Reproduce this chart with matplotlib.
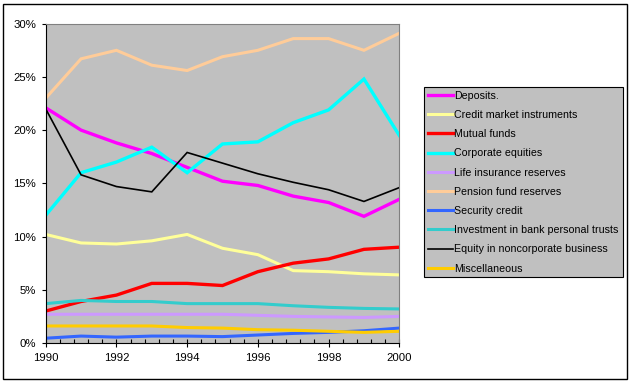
import numpy as np
import matplotlib
matplotlib.use("Agg")
import matplotlib.pyplot as plt
from matplotlib.patches import Rectangle
from matplotlib.ticker import MultipleLocator, FuncFormatter

plt.rcParams['font.family'] = ['Liberation Sans', 'DejaVu Sans']

years = list(range(1990, 2001))

deposits = [22.1, 20.0, 18.8, 17.8, 16.5, 15.2, 14.8, 13.8, 13.2, 11.9, 13.5]
credit_market = [10.2, 9.4, 9.3, 9.6, 10.2, 8.9, 8.3, 6.8, 6.7, 6.5, 6.4]
mutual_funds = [3.0, 3.9, 4.5, 5.6, 5.6, 5.4, 6.7, 7.5, 7.9, 8.8, 9.0]
corp_equities = [12.0, 16.0, 17.0, 18.4, 16.0, 18.7, 18.9, 20.7, 21.9, 24.8, 19.5]
life_insurance = [2.7, 2.7, 2.7, 2.7, 2.7, 2.7, 2.6, 2.5, 2.45, 2.4, 2.5]
pension_funds = [23.0, 26.7, 27.5, 26.1, 25.6, 26.9, 27.5, 28.6, 28.6, 27.5, 29.1]
security_credit = [0.45, 0.65, 0.55, 0.65, 0.65, 0.6, 0.75, 0.9, 1.0, 1.15, 1.4]
bank_trusts = [3.7, 4.0, 3.9, 3.9, 3.7, 3.7, 3.7, 3.5, 3.35, 3.25, 3.2]
noncorp_equity = [22.0, 15.8, 14.7, 14.2, 17.9, 16.9, 15.9, 15.1, 14.4, 13.3, 14.6]
miscellaneous = [1.6, 1.6, 1.6, 1.6, 1.45, 1.4, 1.25, 1.2, 1.1, 1.0, 1.1]

series = [
    ("Deposits.", deposits, "#FF00FF", 2.4),
    ("Credit market instruments", credit_market, "#FFFF99", 2.2),
    ("Mutual funds", mutual_funds, "#FF0000", 2.4),
    ("Corporate equities", corp_equities, "#00FFFF", 2.4),
    ("Life insurance reserves", life_insurance, "#CC99FF", 2.2),
    ("Pension fund reserves", pension_funds, "#FFCC99", 2.2),
    ("Security credit", security_credit, "#3366FF", 2.2),
    ("Investment in bank personal trusts", bank_trusts, "#33CCCC", 2.2),
    ("Equity in noncorporate business", noncorp_equity, "#000000", 1.2),
    ("Miscellaneous", miscellaneous, "#FFCC00", 2.2),
]

W, H = 632, 383
fig = plt.figure(figsize=(W / 100, H / 100), dpi=100)
ax = fig.add_axes([45.7 / W, 1 - 343 / H, (399.3 - 45.7) / W, (343 - 23.7) / H])
ax.set_facecolor("#C0C0C0")

for name, vals, color, lw in series:
    ax.plot(years, vals, color=color, lw=lw, label=name, solid_joinstyle="miter")

ax.set_xlim(1990, 2000)
ax.set_ylim(0, 30)
ax.xaxis.set_major_locator(MultipleLocator(2))
ax.xaxis.set_minor_locator(MultipleLocator(0.4))
ax.yaxis.set_major_locator(MultipleLocator(5))
ax.yaxis.set_major_formatter(FuncFormatter(lambda v, p: f"{v:.0f}%"))
ax.tick_params(axis="both", labelsize=8.2, color="black", width=0.8)
ax.tick_params(axis="x", which="major", direction="inout", length=6, pad=4)
ax.tick_params(axis="x", which="minor", direction="in", length=3, width=0.8)
ax.tick_params(axis="y", which="major", direction="out", length=3, pad=4)
for side in ["top", "right"]:
    ax.spines[side].set_color("#808080")
for side in ["left", "bottom"]:
    ax.spines[side].set_color("black")

leg = fig.legend(loc="upper left", bbox_to_anchor=(424 / W, 1 - 87 / H),
                 fontsize=7.7, frameon=True, fancybox=False, handlelength=2.4,
                 handletextpad=0.1, labelspacing=0.86, borderpad=0.35,
                 borderaxespad=0)
leg.get_frame().set_facecolor("#C0C0C0")
leg.get_frame().set_edgecolor("black")
leg.get_frame().set_linewidth(0.8)
leg.get_frame().set_alpha(1)

fig.patches.append(Rectangle((3 / W, 4 / H), (627 - 3) / W, (379 - 4) / H,
                             transform=fig.transFigure, fill=False,
                             edgecolor="black", lw=1))

fig.savefig("out.png", dpi=100)
